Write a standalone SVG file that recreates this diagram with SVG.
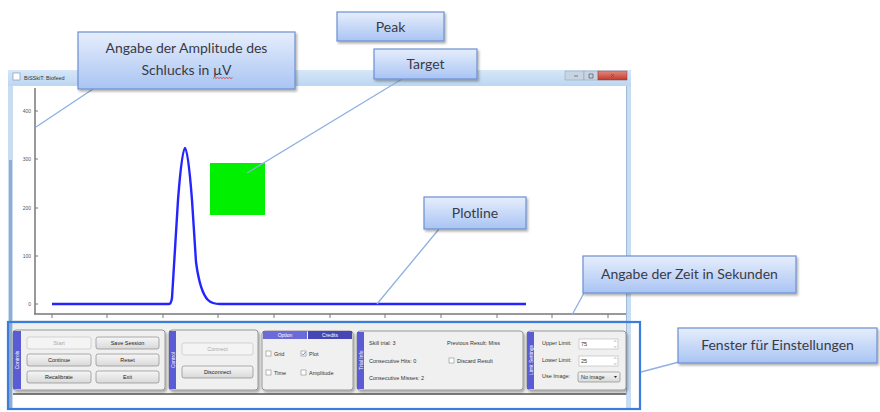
<svg xmlns="http://www.w3.org/2000/svg" width="880" height="412" viewBox="0 0 880 412">
  <defs>
    <linearGradient id="calloutFill" x1="0" y1="0" x2="0" y2="1">
      <stop offset="0" stop-color="#e6eefc"/>
      <stop offset="1" stop-color="#a9c4f3"/>
    </linearGradient>
    <linearGradient id="titleFill" x1="0" y1="0" x2="0" y2="1">
      <stop offset="0" stop-color="#d6e7f8"/>
      <stop offset="1" stop-color="#bcd6f1"/>
    </linearGradient>
    <linearGradient id="btnFill" x1="0" y1="0" x2="0" y2="1">
      <stop offset="0" stop-color="#f6f6f6"/>
      <stop offset="1" stop-color="#d9d9d9"/>
    </linearGradient>
    <linearGradient id="closeFill" x1="0" y1="0" x2="0" y2="1">
      <stop offset="0" stop-color="#e08a80"/>
      <stop offset="1" stop-color="#c4392c"/>
    </linearGradient>
    <filter id="shadow" x="-10%" y="-20%" width="125%" height="150%">
      <feDropShadow dx="1.5" dy="2" stdDeviation="1.2" flood-color="#000" flood-opacity="0.3"/>
    </filter>
  </defs>
  <style>
    .callout rect { fill: url(#calloutFill); stroke: #6d8fd2; stroke-width: 1.2; filter: url(#shadow); }
    .callout text { font-family: Lato, "Open Sans", "Liberation Sans", sans-serif; font-size: 14px; fill: #3a3a46; text-anchor: middle; }
    .conn { stroke: #8eb0e2; stroke-width: 1.3; fill: none; }
    .tiny { font-family: "Liberation Sans", Arial, sans-serif; font-size: 5.5px; fill: #333; }
    .axis-lbl { font-family: "Liberation Sans", Arial, sans-serif; font-size: 5px; fill: #555; text-anchor: end; }
    .grp { fill: #f0f0f0; stroke: #8e8e8e; stroke-width: 0.9; filter: url(#shadow); }
    .bar { fill: #5b5bd3; }
    .bar-lbl { font-family: "Liberation Sans", Arial, sans-serif; font-size: 5px; fill: #fff; text-anchor: middle; }
    .btn { fill: url(#btnFill); stroke: #8a8a8a; stroke-width: 0.7; }
    .btn-off { fill: #f4f4f4; stroke: #c4c4c4; stroke-width: 0.7; }
    .btn-lbl { font-family: "Liberation Sans", Arial, sans-serif; font-size: 5.5px; fill: #222; text-anchor: middle; }
    .btn-lbl-off { font-family: "Liberation Sans", Arial, sans-serif; font-size: 5.5px; fill: #aaa; text-anchor: middle; }
    .chk { fill: #fff; stroke: #8a8a8a; stroke-width: 0.6; }
    .field { fill: #fff; stroke: #b5b5b5; stroke-width: 0.6; }
    .tick { stroke: #777; stroke-width: 1; }
  </style>

  <!-- application window -->
  <g id="window">
    <rect x="8" y="70" width="623" height="340" fill="#c9ddf2"/>
    <rect x="8" y="70" width="623" height="16" fill="url(#titleFill)"/>
    <rect x="13" y="73" width="7" height="7" fill="#fff" stroke="#7a8aa0" stroke-width="0.6"/>
    <text x="24" y="80" class="tiny" font-size="6px" fill="#333">BiSSkiT: Biofeed</text>
    <rect x="565" y="71" width="19" height="9" fill="#c8d4e2" stroke="#8a9ab0" stroke-width="0.5"/>
    <rect x="584" y="71" width="14" height="9" fill="#c8d4e2" stroke="#8a9ab0" stroke-width="0.5"/>
    <rect x="598" y="71" width="29" height="9" fill="url(#closeFill)" stroke="#8a3a30" stroke-width="0.5"/>
    <path d="M574,76 h4 M589,74 h4 v4 h-4 z M611,74 l3,3 M614,74 l-3,3" stroke="#555" stroke-width="0.7" fill="none"/>
    <!-- left frame strip -->
    <rect x="9" y="160" width="3" height="248" fill="#93acc9"/>
    <!-- plot canvas -->
    <rect x="13" y="86" width="613" height="234" fill="#fff"/>
    <line x1="626.5" y1="86" x2="626.5" y2="395" stroke="#9fb8d8" stroke-width="1"/>
    <!-- settings strip background -->
    <rect x="13" y="320" width="613" height="75" fill="#f0f0f0"/>
    <line x1="13" y1="394" x2="626" y2="394" stroke="#555" stroke-width="1.5"/>
    <rect x="13" y="395" width="613" height="15" fill="#fff"/>
  </g>

  <!-- plot axes -->
  <g id="axes">
    <line x1="35" y1="88" x2="35" y2="314" stroke="#777" stroke-width="1.5"/>
    <line x1="34" y1="314" x2="626" y2="314" stroke="#777" stroke-width="1.5"/>
    <g class="tick">
      <line x1="35" y1="111" x2="38" y2="111"/>
      <line x1="35" y1="159" x2="38" y2="159"/>
      <line x1="35" y1="208" x2="38" y2="208"/>
      <line x1="35" y1="256" x2="38" y2="256"/>
      <line x1="35" y1="304" x2="38" y2="304"/>
      <line x1="52" y1="314" x2="52" y2="318"/>
      <line x1="107" y1="314" x2="107" y2="318"/>
      <line x1="163" y1="314" x2="163" y2="318"/>
      <line x1="218" y1="314" x2="218" y2="318"/>
      <line x1="274" y1="314" x2="274" y2="318"/>
      <line x1="330" y1="314" x2="330" y2="318"/>
      <line x1="385" y1="314" x2="385" y2="318"/>
      <line x1="441" y1="314" x2="441" y2="318"/>
      <line x1="497" y1="314" x2="497" y2="318"/>
      <line x1="552" y1="314" x2="552" y2="318"/>
      <line x1="608" y1="314" x2="608" y2="318"/>
    </g>
    <text class="axis-lbl" x="31" y="113">400</text>
    <text class="axis-lbl" x="31" y="161">300</text>
    <text class="axis-lbl" x="31" y="210">200</text>
    <text class="axis-lbl" x="31" y="258">100</text>
    <text class="axis-lbl" x="31" y="306">0</text>
  </g>

  <!-- target zone and signal -->
  <rect id="target-zone" x="210" y="163" width="55" height="52" fill="#00f000"/>
  <path id="signal" d="M52,304 H169 Q171,304 172,298 L178,200 Q182,148 185,148 Q188,148 192,200 L196,262 Q200,292 208,300 Q212,304 220,304 H526" fill="none" stroke="#2424ff" stroke-width="2.4" stroke-linejoin="round"/>

  <!-- settings strip -->
  <g id="settings">
    <!-- control buttons -->
    <g id="grp-controls">
      <rect class="grp" x="13" y="330" width="152" height="60" rx="3"/>
      <rect class="bar" x="13" y="331" width="8" height="58"/>
      <text class="bar-lbl" transform="translate(19 360) rotate(-90)">Controls</text>
      <rect class="btn-off" x="27" y="337" width="64" height="12" rx="2"/>
      <text class="btn-lbl-off" x="59" y="345">Start</text>
      <rect class="btn" x="96" y="337" width="63" height="12" rx="2"/>
      <text class="btn-lbl" x="127.5" y="345">Save Session</text>
      <rect class="btn" x="27" y="354" width="64" height="12" rx="2"/>
      <text class="btn-lbl" x="59" y="362">Continue</text>
      <rect class="btn" x="96" y="354" width="63" height="12" rx="2"/>
      <text class="btn-lbl" x="127.5" y="362">Reset</text>
      <rect class="btn" x="27" y="371" width="64" height="12" rx="2"/>
      <text class="btn-lbl" x="59" y="379">Recalibrate</text>
      <rect class="btn" x="96" y="371" width="63" height="12" rx="2"/>
      <text class="btn-lbl" x="127.5" y="379">Exit</text>
    </g>
    <!-- connection -->
    <g id="grp-connect">
      <rect class="grp" x="169" y="330" width="89" height="60" rx="3"/>
      <rect class="bar" x="169" y="331" width="7" height="58"/>
      <text class="bar-lbl" transform="translate(174.5 360) rotate(-90)">Control</text>
      <rect class="btn-off" x="182" y="343" width="71" height="12" rx="2"/>
      <text class="btn-lbl-off" x="217.5" y="351">Connect</text>
      <rect class="btn" x="182" y="366" width="71" height="12" rx="2"/>
      <text class="btn-lbl" x="217.5" y="374">Disconnect</text>
    </g>
    <!-- option tabs -->
    <g id="grp-options">
      <rect class="grp" x="262" y="331" width="91" height="59" rx="3"/>
      <rect x="263" y="331" width="44" height="8" fill="#6a6ad8"/>
      <rect x="308" y="331" width="44" height="8" fill="#4646b4"/>
      <text class="bar-lbl" x="285" y="337">Option</text>
      <text class="bar-lbl" x="330" y="337" fill="#c8c8f0">Credits</text>
      <rect class="chk" x="266" y="351" width="5" height="5"/>
      <text class="tiny" x="274" y="356">Grid</text>
      <rect class="chk" x="301" y="351" width="5" height="5"/>
      <path d="M302,353.5 l1.3,1.5 l2.2,-3" stroke="#4466aa" stroke-width="0.7" fill="none"/>
      <text class="tiny" x="309" y="356">Plot</text>
      <rect class="chk" x="266" y="370" width="5" height="5"/>
      <text class="tiny" x="274" y="375">Time</text>
      <rect class="chk" x="301" y="370" width="5" height="5"/>
      <text class="tiny" x="309" y="375">Amplitude</text>
    </g>
    <!-- trial status -->
    <g id="grp-status">
      <rect class="grp" x="357" y="331" width="166" height="59" rx="3"/>
      <rect class="bar" x="357" y="332" width="7" height="57"/>
      <text class="bar-lbl" transform="translate(362.5 360) rotate(-90)">Trial Info</text>
      <text class="tiny" x="369" y="345">Skill trial: 3</text>
      <text class="tiny" x="369" y="363">Consecutive Hits: 0</text>
      <text class="tiny" x="369" y="380">Consecutive Misses: 2</text>
      <text class="tiny" x="447" y="345">Previous Result: Miss</text>
      <rect class="chk" x="449" y="358" width="5" height="5"/>
      <text class="tiny" x="457" y="363">Discard Result</text>
    </g>
    <!-- limits -->
    <g id="grp-limits">
      <rect class="grp" x="527" y="331" width="99" height="59" rx="3"/>
      <rect class="bar" x="527" y="332" width="7" height="57"/>
      <text class="bar-lbl" transform="translate(532.5 360) rotate(-90)">Limit Settings</text>
      <text class="tiny" x="542" y="345">Upper Limit:</text>
      <rect class="field" x="579" y="339" width="39" height="10"/>
      <text class="tiny" x="581" y="346">75</text>
      <path d="M614,342 l1.2,-1.5 l1.2,1.5 M614,346 l1.2,1.5 l1.2,-1.5" stroke="#888" stroke-width="0.5" fill="none"/>
      <text class="tiny" x="542" y="362">Lower Limit:</text>
      <rect class="field" x="579" y="356" width="39" height="10"/>
      <text class="tiny" x="581" y="363">25</text>
      <path d="M614,359 l1.2,-1.5 l1.2,1.5 M614,363 l1.2,1.5 l1.2,-1.5" stroke="#888" stroke-width="0.5" fill="none"/>
      <text class="tiny" x="542" y="378">Use Image:</text>
      <rect class="btn" x="578" y="372" width="42" height="10" rx="1.5"/>
      <text class="tiny" x="581" y="379">No image</text>
      <path d="M614,376 h3 l-1.5,2 z" fill="#222"/>
    </g>
  </g>

  <!-- highlight frame around the settings strip -->
  <rect id="settings-frame" x="8" y="322" width="632" height="87" fill="none" stroke="#3b7ddc" stroke-width="2.2"/>

  <!-- connectors from callouts -->
  <g id="connectors">
    <line class="conn" x1="93" y1="89" x2="36" y2="127"/>
    <line class="conn" x1="402" y1="79" x2="247" y2="173"/>
    <line class="conn" x1="439" y1="229" x2="377" y2="304"/>
    <line class="conn" x1="584" y1="293" x2="572" y2="315"/>
    <line class="conn" x1="679" y1="362" x2="641" y2="372"/>
  </g>

  <!-- callouts -->
  <g id="callout-amplitude" class="callout">
    <rect x="78" y="32" width="217" height="57"/>
    <text x="186.5" y="53">Angabe der Amplitude des</text>
    <text x="186.5" y="75">Schlucks in µV</text>
    <path d="M213,78.5 l1.5,-1 l1.5,1 l1.5,-1 l1.5,1 l1.5,-1 l1.5,1 l1.5,-1 l1.5,1 l1.5,-1 l1.5,1 l1.5,-1 l1.5,1 l1.5,-1" stroke="#e02020" stroke-width="0.7" fill="none"/>
  </g>
  <g id="callout-peak" class="callout">
    <rect x="337" y="12" width="107" height="29"/>
    <text x="390.5" y="32">Peak</text>
  </g>
  <g id="callout-target" class="callout">
    <rect x="374" y="49" width="103" height="30"/>
    <text x="425.5" y="69">Target</text>
  </g>
  <g id="callout-plotline" class="callout">
    <rect x="424" y="197" width="102" height="32"/>
    <text x="475" y="218">Plotline</text>
  </g>
  <g id="callout-time" class="callout">
    <rect x="583" y="256" width="213" height="37"/>
    <text x="689.5" y="279">Angabe der Zeit in Sekunden</text>
  </g>
  <g id="callout-settings" class="callout">
    <rect x="678" y="328" width="199" height="35"/>
    <text x="777.5" y="350">Fenster für Einstellungen</text>
  </g>
</svg>
